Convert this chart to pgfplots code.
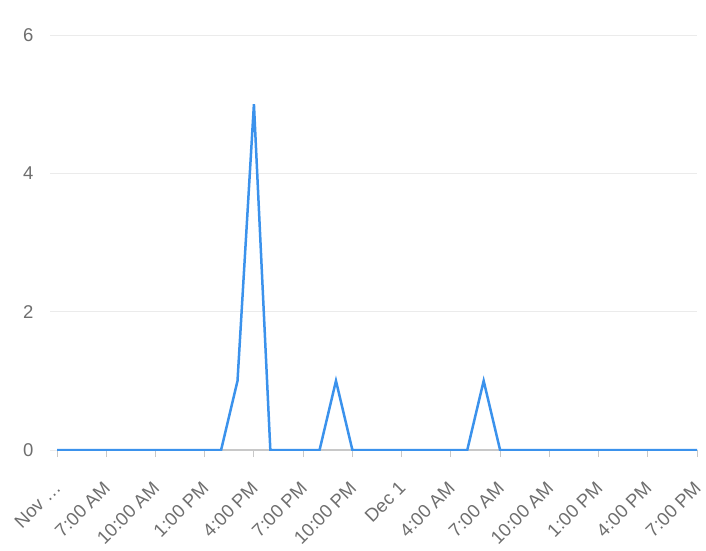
\documentclass[border=0pt]{standalone}
\usepackage{pgfplots}
\pgfplotsset{compat=1.18}
\usepackage{fontspec}
\setmainfont{Liberation Sans}
\definecolor{lineblue}{RGB}{59,146,236}
\definecolor{gridgrey}{RGB}{235,235,235}
\definecolor{axisgrey}{RGB}{200,200,200}
\definecolor{labelgrey}{RGB}{110,110,110}
\begin{document}
\begin{tikzpicture}[x=1pt,y=1pt]
\useasboundingbox (0,0) rectangle (706,550);
\begin{axis}[
  at={(57pt,100pt)}, anchor=south west,
  scale only axis, width=640pt, height=415pt,
  xmin=0, xmax=39, ymin=0, ymax=6,
  axis x line*=bottom, axis y line*=left,
  x axis line style={-, axisgrey, line width=1.2pt},
  y axis line style={draw=none},
  ytick={0,2,4,6},
  xtick={0,3,...,39},
  xticklabels={Nov …,7:00 AM,10:00 AM,1:00 PM,4:00 PM,7:00 PM,10:00 PM,Dec 1,4:00 AM,7:00 AM,10:00 AM,1:00 PM,4:00 PM,7:00 PM},
  tick align=outside,
  major tick length=7pt,
  xtick style={axisgrey, line width=1pt},
  ytick style={gridgrey, line width=1pt},
  ymajorgrids,
  major grid style={gridgrey, line width=1pt},
  /pgf/number format/assume math mode=true,
  ticklabel style={font=\fontsize{18.5}{22}\selectfont, text=labelgrey},
  xticklabel style={xshift=-4pt, yshift=-23pt, rotate=45, anchor=north east, inner sep=0pt},
  yticklabel style={anchor=east, xshift=-13pt},
]
\addplot[lineblue, line width=2.5pt] table {
x y
0 0
1 0
2 0
3 0
4 0
5 0
6 0
7 0
8 0
9 0
10 0
11 1
12 5
13 0
14 0
15 0
16 0
17 1
18 0
19 0
20 0
21 0
22 0
23 0
24 0
25 0
26 1
27 0
28 0
29 0
30 0
31 0
32 0
33 0
34 0
35 0
36 0
37 0
38 0
39 0
};
\end{axis}
\end{tikzpicture}
\end{document}
